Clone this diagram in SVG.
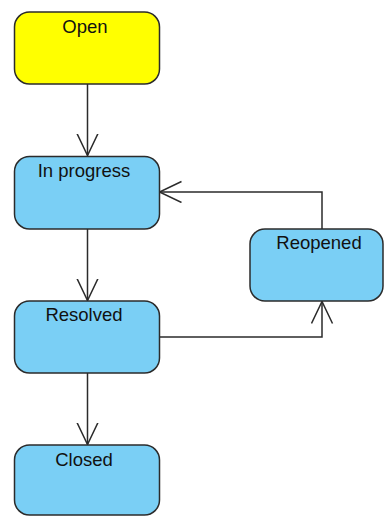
<svg xmlns="http://www.w3.org/2000/svg" width="384" height="516" viewBox="0 0 384 516">
  <style>
    .state rect { stroke: #2b2b2b; stroke-width: 1.5; }
    .blue { fill: #7acff5; }
    .yellow { fill: #ffff00; }
    .label { font-family: "Liberation Sans", Arial, sans-serif; font-size: 18.5px; fill: #111; text-anchor: middle; }
    .edge { fill: none; stroke: #2b2b2b; stroke-width: 1.5; }
  </style>
  <defs>
    <marker id="open-arrow" markerUnits="userSpaceOnUse" markerWidth="26" markerHeight="26" refX="22" refY="11" orient="auto">
      <path d="M0,0.5 L22,11 L0,21.5" fill="none" stroke="#2b2b2b" stroke-width="1.5"/>
    </marker>
  </defs>
  <rect width="384" height="516" fill="#ffffff"/>

  <g id="edges">
    <path class="edge" d="M87.5,84 V155.5" marker-end="url(#open-arrow)"/>
    <path class="edge" d="M87.5,229 V300.5" marker-end="url(#open-arrow)"/>
    <path class="edge" d="M87.5,373 V444.5" marker-end="url(#open-arrow)"/>
    <path class="edge" d="M159,337 H322 V301.5" marker-end="url(#open-arrow)"/>
    <path class="edge" d="M322,229 V192 H159.5" marker-end="url(#open-arrow)"/>
  </g>

  <g id="open" class="state">
    <rect class="yellow" x="14.5" y="12" width="145" height="72" rx="15"/>
    <text class="label" x="85" y="33">Open</text>
  </g>
  <g id="in-progress" class="state">
    <rect class="blue" x="14.5" y="156.5" width="145" height="72.5" rx="15"/>
    <text class="label" x="84" y="177">In progress</text>
  </g>
  <g id="resolved" class="state">
    <rect class="blue" x="14.5" y="301" width="145" height="72" rx="15"/>
    <text class="label" x="84" y="321">Resolved</text>
  </g>
  <g id="closed" class="state">
    <rect class="blue" x="14.5" y="445" width="145" height="70" rx="15"/>
    <text class="label" x="84" y="466">Closed</text>
  </g>
  <g id="reopened" class="state">
    <rect class="blue" x="250" y="229" width="133" height="72" rx="15"/>
    <text class="label" x="319" y="249">Reopened</text>
  </g>
</svg>
